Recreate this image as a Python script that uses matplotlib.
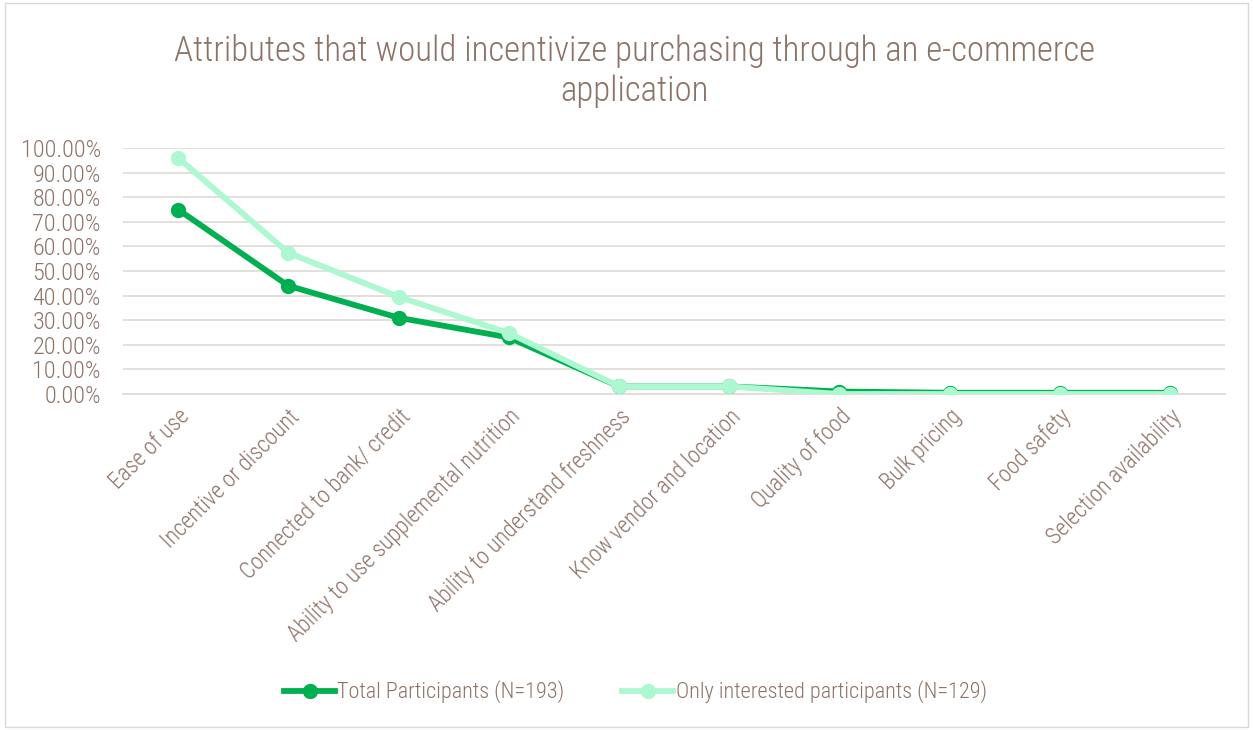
import matplotlib.pyplot as plt
from matplotlib.ticker import FuncFormatter
from matplotlib import font_manager

categories = ["Ease of use", "Incentive or discount", "Connected to bank/ credit",
              "Ability to use supplemental nutrition", "Ability to understand freshness",
              "Know vendor and location", "Quality of food", "Bulk pricing",
              "Food safety", "Selection availability"]
total = [75.0, 44.0, 31.0, 23.0, 3.1, 3.1, 1.0, 0.5, 0.5, 0.5]
interested = [96.0, 57.4, 39.5, 24.8, 3.1, 3.1, 0.0, 0.0, 0.0, 0.0]

# narrow font like the original if one is around
names = {f.name for f in font_manager.fontManager.ttflist}
fam = 'DejaVu Sans'
for cand in ['Roboto Condensed', 'Archivo Narrow', 'PT Sans Narrow', 'Liberation Sans Narrow']:
    if cand in names:
        fam = cand
        break
narrow = fam != 'DejaVu Sans'
plt.rcParams['font.family'] = [fam, 'DejaVu Sans']
if narrow:
    plt.rcParams['font.weight'] = 'light'
k = 1.0 if narrow else 0.82
txt = '#8C7366'

fig = plt.figure(figsize=(12.53, 7.30), dpi=100)
ax = fig.add_axes([123 / 1253, 1 - 394 / 730, (1225 - 123) / 1253, 246 / 730])

x = list(range(len(categories)))
ax.plot(x, total, color='#00B050', lw=4.2, marker='o', ms=10,
        label='Total Participants (N=193)', zorder=3)
ax.plot(x, interested, color='#ADF7D1', lw=4.2, marker='o', ms=10,
        label='Only interested participants (N=129)', zorder=4)

ax.set_xlim(-0.5, len(categories) - 0.5)
ax.set_ylim(0, 100)
ax.set_yticks(range(0, 101, 10))
ax.yaxis.set_major_formatter(FuncFormatter(lambda v, p: f"{v:.2f}%"))
ax.grid(axis='y', color='#E3DCD8', lw=1.3)
ax.set_axisbelow(True)
for s in ['top', 'right', 'left']:
    ax.spines[s].set_visible(False)
ax.spines['bottom'].set_color('#E3DCD8')
ax.spines['bottom'].set_linewidth(1.3)
ax.tick_params(axis='y', length=0, labelsize=17.5 * k, labelcolor=txt, pad=16)
ax.tick_params(axis='x', length=0, labelsize=16.5 * k, labelcolor=txt, pad=8)
ax.set_xticks(x)
ax.set_xticklabels(categories, rotation=45, ha='right', rotation_mode='anchor')

fig.text(0.506, 0.953, "Attributes that would incentivize purchasing through an e-commerce\napplication",
         ha='center', va='top', fontsize=25 * k, color=txt, linespacing=1.25)

fig.legend(loc='center', bbox_to_anchor=(0.507, 0.052), ncol=2, frameon=False,
           fontsize=16 * k, labelcolor=txt, handlelength=2.3, columnspacing=2.6, handletextpad=0.1)

fig.patches.append(plt.Rectangle((0.004, 0.004), 0.992, 0.992, transform=fig.transFigure,
                                 fill=False, edgecolor='#D9D9D9', lw=1))

fig.savefig('out.png', dpi=100)
